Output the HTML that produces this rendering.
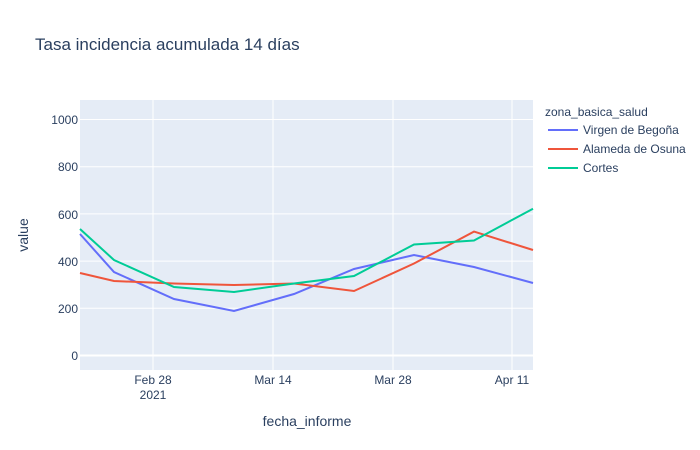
<!DOCTYPE html>
<html><head><meta charset="utf-8"><style>body{margin:0;background:#fff}svg{display:block}</style></head><body>
<svg width="700" height="450" xmlns="http://www.w3.org/2000/svg" font-family="'Liberation Sans', sans-serif">
<rect width="700" height="450" fill="#fff"/>
<text x="35" y="50" font-size="17" fill="#2a3f5f">Tasa incidencia acumulada 14 días</text>
<rect x="80" y="100" width="453" height="270" fill="#e5ecf6"/>
<g stroke="#fff" stroke-width="1">
<line x1="80" x2="533" y1="355.5" y2="355.5" stroke-width="2"/>
<line x1="80" x2="533" y1="308.3" y2="308.3"/>
<line x1="80" x2="533" y1="261.1" y2="261.1"/>
<line x1="80" x2="533" y1="213.9" y2="213.9"/>
<line x1="80" x2="533" y1="166.7" y2="166.7"/>
<line x1="80" x2="533" y1="119.5" y2="119.5"/>
<line x1="153" x2="153" y1="100" y2="370"/>
<line x1="273" x2="273" y1="100" y2="370"/>
<line x1="393" x2="393" y1="100" y2="370"/>
<line x1="512" x2="512" y1="100" y2="370"/>
</g>
<g font-size="12" fill="#2a3f5f" text-anchor="end">
<text x="78" y="360">0</text><text x="78" y="313">200</text><text x="78" y="266">400</text>
<text x="78" y="219">600</text><text x="78" y="171">800</text><text x="78" y="124">1000</text>
</g>
<g font-size="12" fill="#2a3f5f" text-anchor="middle">
<text x="153" y="384">Feb 28</text><text x="153" y="399">2021</text>
<text x="273" y="384">Mar 14</text><text x="393" y="384">Mar 28</text><text x="512" y="384">Apr 11</text>
</g>
<text x="307" y="426" font-size="14" fill="#2a3f5f" text-anchor="middle">fecha_informe</text>
<text transform="translate(28,235) rotate(-90)" font-size="14" fill="#2a3f5f" text-anchor="middle">value</text>
<g fill="none" stroke-width="2">
<polyline stroke="#636efa" points="80,234 114,272 174,299 234,311 294,294 354,269 414,255 474,267 533,283"/>
<polyline stroke="#ef553b" points="80,273 114,281 174,283.5 234,285 294,283.5 354,291 414,263.5 474,231.6 533,250"/>
<polyline stroke="#00cc96" points="80,229 114,260 174,287 234,292 294,283.5 354,276 414,244.5 474,240.5 533,208.7"/>
</g>
<text x="545" y="116" font-size="12" fill="#2a3f5f">zona_basica_salud</text>
<g font-size="12" fill="#2a3f5f">
<line x1="548" x2="578" y1="130" y2="130" stroke="#636efa" stroke-width="2"/><text x="583" y="134">Virgen de Begoña</text>
<line x1="548" x2="578" y1="149" y2="149" stroke="#ef553b" stroke-width="2"/><text x="583" y="153">Alameda de Osuna</text>
<line x1="548" x2="578" y1="168" y2="168" stroke="#00cc96" stroke-width="2"/><text x="583" y="172">Cortes</text>
</g>
</svg>
</body></html>
